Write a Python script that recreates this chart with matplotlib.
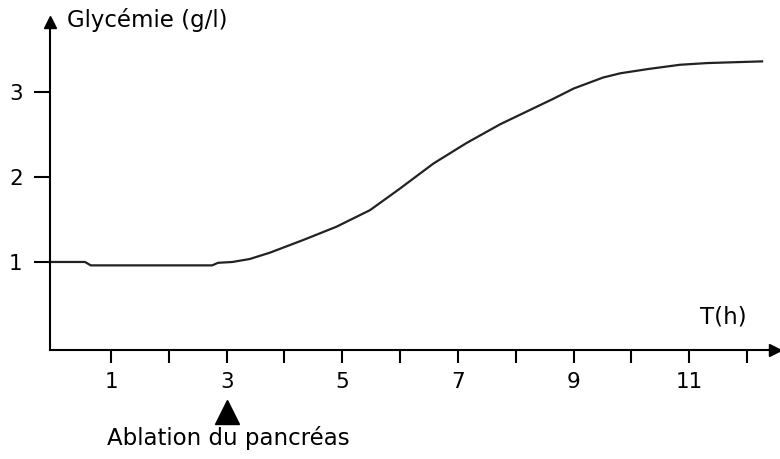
import matplotlib
matplotlib.use("Agg")
import matplotlib.pyplot as plt

# courbe de glycémie
temps = [-0.06, 0.55, 0.65, 1.0, 2.0, 2.75, 2.85, 3.1, 3.4, 3.75, 4.33, 4.9, 5.48, 5.97,
         6.58, 7.15, 7.73, 8.22, 8.65, 9.0, 9.51, 9.81, 10.29, 10.84, 11.31, 12.26]
glycemie = [1.0, 1.0, 0.96, 0.96, 0.96, 0.96, 0.99, 1.0, 1.035, 1.11, 1.26, 1.415, 1.61, 1.85,
            2.16, 2.40, 2.62, 2.78, 2.92, 3.04, 3.17, 3.22, 3.27, 3.32, 3.34, 3.36]

xticks = [1, 2, 3, 4, 5, 6, 7, 8, 9, 10, 11, 12]
xlabels = ["1", "", "3", "", "5", "", "7", "", "9", "", "11", ""]
yticks = [1, 2, 3]
ylabels = ["1", "2", "3"]
t_ablation = 3

plt.rcParams["font.family"] = "DejaVu Sans"

fig = plt.figure(figsize=(7.8, 4.59), dpi=100)
ax = fig.add_axes([0, 0, 1, 1])
ax.set_xlim(-0.92, 12.57)
ax.set_ylim(-1.318, 4.082)

x0, y0 = -0.06, -0.035
for s in ["top", "right"]:
    ax.spines[s].set_visible(False)
ax.spines["left"].set_position(("data", x0))
ax.spines["bottom"].set_position(("data", y0))
ax.spines["left"].set_bounds(y0, 3.8)
ax.spines["bottom"].set_bounds(x0, 12.4)
ax.spines["left"].set_linewidth(1.5)
ax.spines["bottom"].set_linewidth(1.5)

# fleches des axes
ax.plot(x0, 3.82, marker="^", ms=8, color="black", clip_on=False)
ax.plot(12.48, y0, marker=">", ms=8, color="black", clip_on=False)

ax.set_xticks(xticks)
ax.set_xticklabels(xlabels)
ax.set_yticks(yticks)
ax.set_yticklabels(ylabels)
ax.tick_params(axis="x", direction="out", length=9, width=1.5, pad=7, labelsize=15.5)
ax.tick_params(axis="y", direction="out", length=11.5, width=1.5, pad=8, labelsize=15.5)

ax.plot(temps, glycemie, color="#222222", linewidth=1.6)

ax.text(0.24, 3.85, "Glycémie (g/l)", fontsize=16.5, va="center", ha="left")
ax.text(11.19, 0.35, "T(h)", fontsize=16.5, va="center", ha="left")

# ablation du pancréas
ax.plot(t_ablation, -0.76, marker="^", ms=17, color="black", clip_on=False)
ax.plot([t_ablation, t_ablation], [-0.86, -0.9], color="black", linewidth=1.5)
ax.text(t_ablation + 0.03, -1.07, "Ablation du pancréas", fontsize=16.5, va="center", ha="center")

plt.savefig("out.png", dpi=100)
